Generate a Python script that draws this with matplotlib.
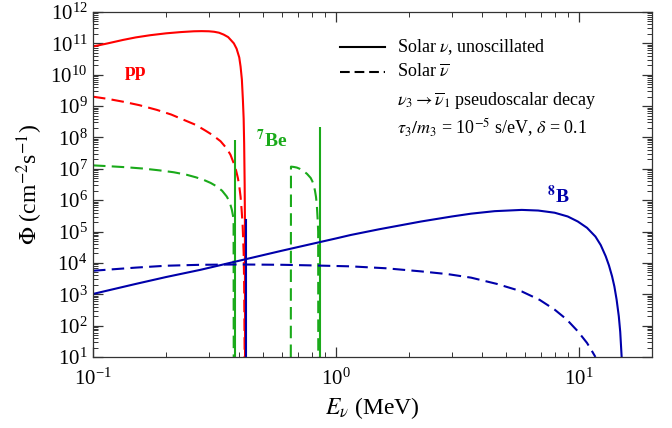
import numpy as np
import matplotlib
matplotlib.use("Agg")
import matplotlib.pyplot as plt
from matplotlib.lines import Line2D
from matplotlib.ticker import LogLocator, LogFormatterSciNotation, NullFormatter

plt.rcParams['font.family'] = ['Liberation Serif', 'DejaVu Serif']
plt.rcParams['mathtext.fontset'] = 'stix'
plt.rcParams['lines.scale_dashes'] = False

# --- data (E in MeV, log10 of flux) ---
pp_E = [0.10, 0.115, 0.133, 0.15, 0.172, 0.20, 0.23, 0.26, 0.28, 0.30, 0.315,
        0.33, 0.345, 0.36, 0.37, 0.38, 0.39, 0.40, 0.405, 0.41, 0.414, 0.417,
        0.419, 0.421, 0.422, 0.4225]
pp_logphi = [10.90, 11.00, 11.11, 11.19, 11.26, 11.32, 11.36, 11.385, 11.39, 11.385, 11.37,
             11.34, 11.28, 11.20, 11.10, 11.00, 10.83, 10.55, 10.26, 9.85, 9.20, 8.60,
             7.80, 6.50, 5.40, 1.0]

pp_bar_E = [0.10, 0.115, 0.133, 0.155, 0.183, 0.21, 0.24, 0.265, 0.29, 0.31, 0.335,
            0.355, 0.368, 0.379, 0.388, 0.395, 0.40, 0.405, 0.409, 0.413, 0.417,
            0.419, 0.420, 0.421]
pp_bar_logphi = [9.30, 9.23, 9.14, 9.03, 8.88, 8.73, 8.54, 8.40, 8.22, 8.08, 7.88,
                 7.65, 7.45, 7.19, 6.95, 6.70, 6.45, 6.11, 5.70, 5.20, 4.32,
                 3.30, 2.19, 1.0]

be_lines_E = [0.384, 0.862]
be_lines_logphi = [7.92, 8.34]

be_bar1_E = [0.10, 0.118, 0.137, 0.16, 0.188, 0.215, 0.243, 0.265, 0.285, 0.305,
             0.323, 0.34, 0.355, 0.365, 0.373, 0.377, 0.379, 0.3795]
be_bar1_logphi = [7.11, 7.08, 7.05, 7.01, 6.95, 6.89, 6.81, 6.73, 6.65, 6.55,
                  6.44, 6.30, 6.12, 5.95, 5.69, 5.50, 5.38, 1.0]

be_bar2_E = [0.652, 0.653, 0.67, 0.69, 0.71, 0.735, 0.76, 0.787, 0.80, 0.81, 0.82,
             0.828, 0.835, 0.838, 0.842, 0.845, 0.846]
be_bar2_logphi = [1.0, 7.07, 7.06, 7.04, 7.00, 6.93, 6.84, 6.71, 6.60, 6.48, 6.30,
                  6.10, 5.80, 5.59, 5.30, 5.00, 1.0]

b8_E = [0.10, 0.15, 0.2, 0.277, 0.4, 0.6, 0.8, 1.0, 1.15, 1.5, 2.24, 3.0, 3.6, 4.5,
        5.82, 6.8, 7.95, 9.0, 9.9, 10.8, 11.7, 12.3, 12.9, 13.3, 13.7, 14.0, 14.3,
        14.6, 14.8, 15.0]
b8_logphi = [3.01, 3.33, 3.55, 3.78, 4.07, 4.39, 4.61, 4.78, 4.89, 5.07, 5.32, 5.48, 5.57, 5.65,
             5.69, 5.67, 5.60, 5.48, 5.32, 5.12, 4.84, 4.57, 4.21, 3.92, 3.57, 3.25, 2.83,
             2.30, 1.80, 1.0]

b8_bar_E = [0.10, 0.15, 0.2, 0.277, 0.4, 0.6, 0.8, 1.15, 1.6, 2.24, 2.9, 3.6, 4.6,
            5.82, 6.9, 7.95, 8.9, 9.9, 10.8, 11.3, 11.7]
b8_bar_logphi = [3.75, 3.85, 3.91, 3.94, 3.95, 3.94, 3.92, 3.89, 3.83, 3.73, 3.64, 3.53, 3.33,
                 3.09, 2.82, 2.51, 2.20, 1.82, 1.45, 1.20, 1.0]

# blue vertical segment at the pp endpoint
edge_E = [0.428, 0.428]
edge_logphi = [5.38, 1.0]

red = '#ff0000'
green = '#1aaa1a'
blue = '#0000aa'
lw = 1.5
dash = (9, 4.5)

fig = plt.figure(figsize=(6.72, 4.28), dpi=100)
ax = fig.add_axes([93 / 672, 1 - 357 / 428, (652 - 93) / 672, (357 - 12) / 428])


def curve(E, lp, color, dashed=False):
    line, = ax.plot(E, 10 ** np.array(lp), color=color, lw=lw)
    if dashed:
        line.set_dashes(dash)
    return line


curve(pp_E, pp_logphi, red)
curve(pp_bar_E, pp_bar_logphi, red, dashed=True)
curve(be_bar1_E, be_bar1_logphi, green, dashed=True)
curve(be_bar2_E, be_bar2_logphi, green, dashed=True)
ax.vlines(be_lines_E, 10, 10 ** np.array(be_lines_logphi), color=green, lw=lw)
curve(b8_E, b8_logphi, blue)
curve(b8_bar_E, b8_bar_logphi, blue, dashed=True)
curve(edge_E, edge_logphi, blue)

ax.set_xscale('log')
ax.set_yscale('log')
ax.set_xlim(0.1, 20)
ax.set_ylim(10, 1e12)

ax.xaxis.set_major_locator(LogLocator(base=10, numticks=20))
ax.xaxis.set_minor_locator(LogLocator(base=10, subs=np.arange(2, 10), numticks=100))
ax.yaxis.set_major_locator(LogLocator(base=10, numticks=20))
ax.yaxis.set_minor_locator(LogLocator(base=10, subs=np.arange(2, 10), numticks=100))
ax.xaxis.set_major_formatter(LogFormatterSciNotation())
ax.yaxis.set_major_formatter(LogFormatterSciNotation())
ax.xaxis.set_minor_formatter(NullFormatter())
ax.yaxis.set_minor_formatter(NullFormatter())

ax.tick_params(which='both', direction='in', top=True, right=True,
               color='#333333', labelsize=15)
ax.tick_params(which='major', length=7, width=0.9)
ax.tick_params(which='minor', length=3.5, width=0.7)
ax.tick_params(axis='x', pad=8)
ax.tick_params(axis='y', pad=4)
for s in ax.spines.values():
    s.set_color('#333333')
    s.set_linewidth(0.9)

ax.set_xlabel(r'$E_\nu$ (MeV)', fontsize=17, labelpad=4)
ax.set_ylabel(r'$\Phi$ (cm$^{-2}$s$^{-1}$)', fontsize=17, labelpad=4)

# curve labels
ax.text(0.150, 10 ** 10.09, 'pp', color=red, fontsize=14, fontweight='bold',
        ha='center', va='center')
ax.text(0.545, 10 ** 7.92, r'$^{\mathbf{7}}$Be', color=green, fontsize=14,
        fontweight='bold', ha='center', va='center')
ax.text(8.2, 10 ** 6.14, r'$^{\mathbf{8}}$B', color=blue, fontsize=14,
        fontweight='bold', ha='center', va='center')

# hand-made legend in figure pixels
lx0, lx1, tx = 340 / 672, 385 / 672, 397 / 672
rows = [47, 72, 101, 128]
fig.add_artist(Line2D([lx0, lx1], [1 - rows[0] / 428] * 2, color='black', lw=lw))
fig.add_artist(Line2D([lx0, lx1], [1 - rows[1] / 428] * 2, color='black', lw=lw,
                      dashes=(7, 3.5)))

texts = [r'Solar $\nu$, unoscillated',
         r'Solar $\overline{\nu}$',
         r'$\nu_3 \rightarrow \overline{\nu}_1$ pseudoscalar decay',
         r'$\tau_3/m_3$ = 10$^{-5}$ s/eV, $\delta$ = 0.1']
for t, r in zip(texts, rows):
    fig.text(tx, 1 - r / 428, t, fontsize=13, ha='left', va='center')

fig.savefig('out.png', dpi=100)
